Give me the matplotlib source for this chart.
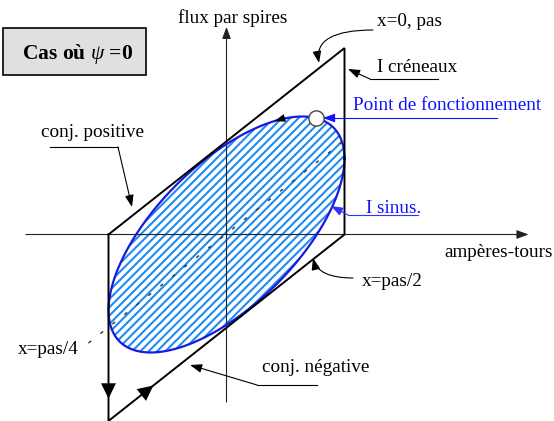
import numpy as np
import matplotlib
matplotlib.use("Agg")
import matplotlib.pyplot as plt
from matplotlib.patches import Rectangle

# ---------------- data (units: square-wave ampere-turn amplitude = 1) ----------------
cren_at = [-1.0, -1.0, 1.0, 1.0, -1.0]          # I créneaux cycle (ampère-tours)
cren_flux = [0.0, -1.58, 0.0, 1.58, 0.0]        # flux par spire
sin_at_amp = 1.0                                # I sinus amplitude
sin_flux_amp = 1.0                              # flux amplitude
sin_phase_deg = 50.0                            # phase between flux and current
op_point_deg = 41.0                             # point de fonctionnement (phase)
dir_arrow_deg = 66.0                            # direction arrow on the ellipse
pas_line_at = [-1.17, 1.04]                     # x = pas/4 line
pas_line_flux = [-0.92, 0.83]
axis_at = [-1.70, 2.56]
axis_flux = [-1.42, 1.76]
down_arrow_frac = 0.88                          # position of arrows on the cycle
diag_arrow_frac = 0.19

plt.rcParams["font.family"] = ["Liberation Serif", "DejaVu Serif"]
plt.rcParams["mathtext.fontset"] = "custom"
plt.rcParams["mathtext.it"] = "Liberation Serif:italic"
plt.rcParams["mathtext.rm"] = "Liberation Serif:bold"
plt.rcParams["hatch.linewidth"] = 1.5

X0, Y0, S = 226.5, 234.5, 118.0
W, H = 554, 421


def P(x, y):
    return ((x - X0) / S, (Y0 - y) / S)


fig = plt.figure(figsize=(W / 100, H / 100), dpi=100)
ax = fig.add_axes([0, 0, 1, 1])
ax.set_xlim(-X0 / S, (W - X0) / S)
ax.set_ylim((Y0 - H) / S, Y0 / S)
ax.axis("off")

FS = 13.8
BLUE = "#1010ff"

# ---------------- ellipse (I sinus) ----------------
t = np.linspace(0, 2 * np.pi, 400)
ph = np.deg2rad(sin_phase_deg)
eu = sin_at_amp * np.cos(t)
ev = sin_flux_amp * np.cos(t - ph)
ax.fill(eu, ev, facecolor="none", edgecolor="#1e8cf0", hatch="////", lw=0, zorder=1)

# ---------------- axes ----------------
axis_kw = dict(arrowstyle="-|>,head_length=0.6,head_width=0.22", mutation_scale=12,
               lw=0.8, color="#222222", shrinkA=0, shrinkB=0)
ax.annotate("", xy=(axis_at[1], 0), xytext=(axis_at[0], 0), arrowprops=axis_kw, zorder=2)
ax.annotate("", xy=(0, axis_flux[1]), xytext=(0, axis_flux[0]), arrowprops=axis_kw, zorder=2)

ax.plot(eu, ev, color="#1a1ae0", lw=1.6, zorder=3)

# x = pas/4 dashed line
ax.plot(pas_line_at, pas_line_flux, color="#333333", lw=1.0, dashes=(2.5, 8.5), zorder=3)

# ---------------- parallelogram (I créneaux) ----------------
ax.plot(cren_at, cren_flux, color="black", lw=1.4, zorder=4, solid_joinstyle="miter")

big = dict(arrowstyle="-|>,head_length=0.55,head_width=0.27", mutation_scale=20,
           lw=0, color="black", shrinkA=0, shrinkB=0)
# down arrow on left side
p0 = np.array([cren_at[0], cren_flux[0]])
p1 = np.array([cren_at[1], cren_flux[1]])
tip = p0 + down_arrow_frac * (p1 - p0)
d = (p1 - p0) / np.linalg.norm(p1 - p0)
ax.annotate("", xy=tip, xytext=tip - 0.3 * d, arrowprops=big, zorder=5)
# up-right arrow on lower diagonal
p2 = np.array([cren_at[2], cren_flux[2]])
tip = p1 + diag_arrow_frac * (p2 - p1)
d = (p2 - p1) / np.linalg.norm(p2 - p1)
ax.annotate("", xy=tip, xytext=tip - 0.3 * d, arrowprops=big, zorder=5)

# direction arrow on ellipse
ta = np.deg2rad(dir_arrow_deg)
tipe = np.array([sin_at_amp * np.cos(ta), sin_flux_amp * np.cos(ta - ph)])
de = np.array([-sin_at_amp * np.sin(ta), -sin_flux_amp * np.sin(ta - ph)])
de /= np.linalg.norm(de)
small_head = dict(arrowstyle="-|>,head_length=0.6,head_width=0.22", mutation_scale=13,
                  lw=0, color="black", shrinkA=0, shrinkB=0)
ax.annotate("", xy=tipe, xytext=tipe - 0.15 * de, arrowprops=small_head, zorder=5)

# point de fonctionnement
to = np.deg2rad(op_point_deg)
ax.plot([sin_at_amp * np.cos(to)], [sin_flux_amp * np.cos(to - ph)], "o", ms=11,
        mfc="white", mec="#444444", mew=1.0, zorder=6)

# ---------------- labels & leaders ----------------
def txt(x, y, s, color="black", **kw):
    ax.text(*P(x, y), s, fontsize=FS, color=color, ha="left", va="baseline", **kw)


def leader(pts, tip, color="black", style="-|>,head_length=0.55,head_width=0.2", conn="arc3"):
    if len(pts) > 1:
        xs, ys = zip(*[P(*p) for p in pts])
        ax.plot(xs, ys, color=color, lw=0.8, zorder=5)
    ax.annotate("", xy=P(*tip), xytext=P(*pts[-1]),
                arrowprops=dict(arrowstyle=style, mutation_scale=13, lw=0.8, color=color,
                                shrinkA=0, shrinkB=0, connectionstyle=conn), zorder=5)


txt(178, 23, "flux par spires")
txt(377, 26, "x=0, pas")
leader([(373, 30)], (319, 63), conn="angle3,angleA=180,angleB=100")
txt(377, 72, "I créneaux")
leader([(438, 79), (370, 79)], (348, 69))
txt(353, 110, "Point de fonctionnement", color=BLUE)
leader([(497, 118), (326, 118)], (323, 118), color=BLUE)
txt(366, 213, "I sinus.", color=BLUE)
leader([(418, 215), (348, 215)], (331, 206), color="#3030ff")
txt(444, 257, "ampères-tours")
txt(362, 286, "x=pas/2")
leader([(353, 278)], (313, 258), conn="angle3,angleA=180,angleB=104")
txt(18, 354, "x=pas/4")
txt(262, 372, "conj. négative")
leader([(317, 385), (257, 385)], (190, 365))
txt(41, 137, "conj. positive")
leader([(50, 147), (118, 147)], (132, 207))

# title box
bx, by = P(3, 75)
ax.add_patch(Rectangle((bx, by), 143 / S, 47 / S, facecolor="#e0e0e0",
                       edgecolor="black", lw=1.2, zorder=6))
ax.text(*P(77.5, 59), r"Cas où $\psi$ =0", fontsize=15.5, fontweight="bold",
        ha="center", va="baseline", zorder=7)

fig.savefig("out.png", dpi=100)
